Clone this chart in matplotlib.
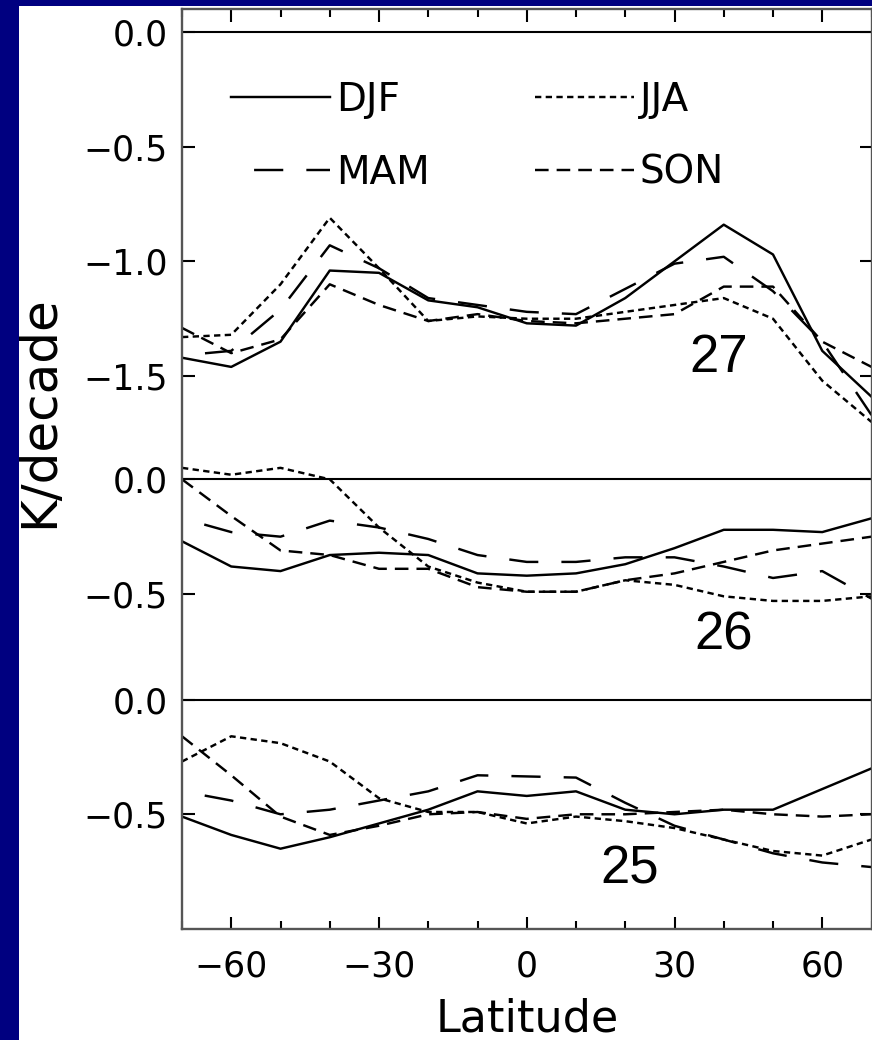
import numpy as np
import matplotlib
matplotlib.use('Agg')
from matplotlib import pyplot as plt
from matplotlib.patches import Rectangle
from matplotlib.ticker import MultipleLocator

# latitude bands (deg), one value every 10 degrees
lat = np.arange(-70, 71, 10)

# trends (K/decade) for the three levels, by season
djf_27 = [-1.42, -1.46, -1.35, -1.04, -1.05, -1.17, -1.20, -1.27, -1.28, -1.16, -1.00, -0.84, -0.97, -1.39, -1.59]
jja_27 = [-1.33, -1.32, -1.10, -0.81, -1.03, -1.26, -1.24, -1.25, -1.25, -1.22, -1.19, -1.16, -1.25, -1.52, -1.70]
mam_27 = [-1.41, -1.39, -1.21, -0.93, -1.03, -1.16, -1.19, -1.22, -1.23, -1.12, -1.01, -0.98, -1.13, -1.35, -1.67]
son_27 = [-1.29, -1.40, -1.34, -1.10, -1.19, -1.26, -1.23, -1.26, -1.27, -1.25, -1.23, -1.11, -1.11, -1.35, -1.46]

djf_26 = [-0.27, -0.38, -0.40, -0.33, -0.32, -0.33, -0.41, -0.42, -0.41, -0.37, -0.30, -0.22, -0.22, -0.23, -0.17]
jja_26 = [0.05, 0.02, 0.05, 0.00, -0.21, -0.38, -0.45, -0.49, -0.49, -0.44, -0.46, -0.51, -0.53, -0.53, -0.51]
mam_26 = [-0.17, -0.23, -0.25, -0.18, -0.21, -0.26, -0.33, -0.36, -0.36, -0.34, -0.34, -0.38, -0.43, -0.40, -0.52]
son_26 = [0.00, -0.16, -0.31, -0.33, -0.39, -0.39, -0.47, -0.49, -0.49, -0.44, -0.41, -0.36, -0.31, -0.28, -0.25]

djf_25 = [-0.51, -0.59, -0.65, -0.60, -0.54, -0.48, -0.40, -0.42, -0.40, -0.48, -0.50, -0.48, -0.48, -0.39, -0.30]
jja_25 = [-0.27, -0.16, -0.19, -0.27, -0.43, -0.49, -0.49, -0.54, -0.51, -0.53, -0.56, -0.61, -0.66, -0.68, -0.61]
mam_25 = [-0.40, -0.44, -0.50, -0.48, -0.44, -0.40, -0.33, -0.335, -0.34, -0.45, -0.55, -0.61, -0.67, -0.71, -0.73]
son_25 = [-0.16, -0.33, -0.51, -0.59, -0.55, -0.50, -0.49, -0.52, -0.50, -0.50, -0.49, -0.48, -0.50, -0.51, -0.50]

levels = ['27', '26', '25']
offsets = [0.0, -1.95, -2.91]   # vertical shift of each level's curves
label_pos = [(39, -1.42), (40, -0.68), (21, -0.74)]
seasons = ['DJF', 'MAM', 'JJA', 'SON']
data = {
  '27': [djf_27, mam_27, jja_27, son_27],
  '26': [djf_26, mam_26, jja_26, son_26],
  '25': [djf_25, mam_25, jja_25, son_25],
}
styles = {
  'DJF': '-',
  'MAM': (12, (12, 9.5)),
  'JJA': (0, (2.6, 1.8)),
  'SON': (0, (5.6, 3.3)),
}

fig = plt.figure(figsize=(8.72, 10.40), dpi=100, facecolor='#000080')
fig.add_artist(Rectangle((19 / 872, 0), 1, 1 - 6 / 1040, transform=fig.transFigure,
                         facecolor='white', edgecolor='none', zorder=0))
ax = fig.add_axes([182 / 872, 1 - 929 / 1040, 689.5 / 872, 920 / 1040])

for lev, off, (lx, ly) in zip(levels, offsets, label_pos):
  ax.axhline(off, color='black', lw=1.5)
  for name, vals in zip(seasons, data[lev]):
    ax.plot(lat, np.array(vals) + off, color='black', lw=1.75, linestyle=styles[name],
            label=name if lev == '27' else None)
  ax.text(lx, ly + off, lev, fontsize=38, family='Liberation Sans',
          ha='center', va='center')

ax.set_xlim(-70, 70)
ax.set_ylim(-3.91, 0.1)
ax.xaxis.set_major_locator(MultipleLocator(30))
ax.xaxis.set_minor_locator(MultipleLocator(10))
yt = [0.0, -0.5, -1.0, -1.5, offsets[1], offsets[1] - 0.5, offsets[2], offsets[2] - 0.5]
ax.set_yticks(yt)
ax.set_yticklabels(['0.0', '\u22120.5', '\u22121.0', '\u22121.5', '0.0', '\u22120.5', '0.0', '\u22120.5'])
ax.set_xticks([-60, -30, 0, 30, 60])
ax.set_xticklabels(['\u221260', '\u221230', '0', '30', '60'])
ax.tick_params(which='both', direction='in', top=True, right=True, labelsize=25, width=1.5)
ax.tick_params(which='major', length=9)
ax.tick_params(which='minor', length=5.5)
ax.tick_params(axis='y', pad=10)
ax.tick_params(axis='x', pad=15)
for s in ax.spines.values():
  s.set_color('#555555')
  s.set_linewidth(1.7)

ax.set_xlabel('Latitude', fontsize=32, labelpad=10)
ax.set_ylabel('K/decade', fontsize=36)
ax.yaxis.set_label_coords(-0.172, 0.562)

ax.legend(loc='upper left', bbox_to_anchor=(0.071, 0.922), ncol=2, frameon=False,
          fontsize=28, handlelength=2.55, handletextpad=0.15, columnspacing=2.7,
          labelspacing=0.9, borderpad=0, borderaxespad=0)

fig.savefig('out.png', dpi=100, facecolor=fig.get_facecolor())
